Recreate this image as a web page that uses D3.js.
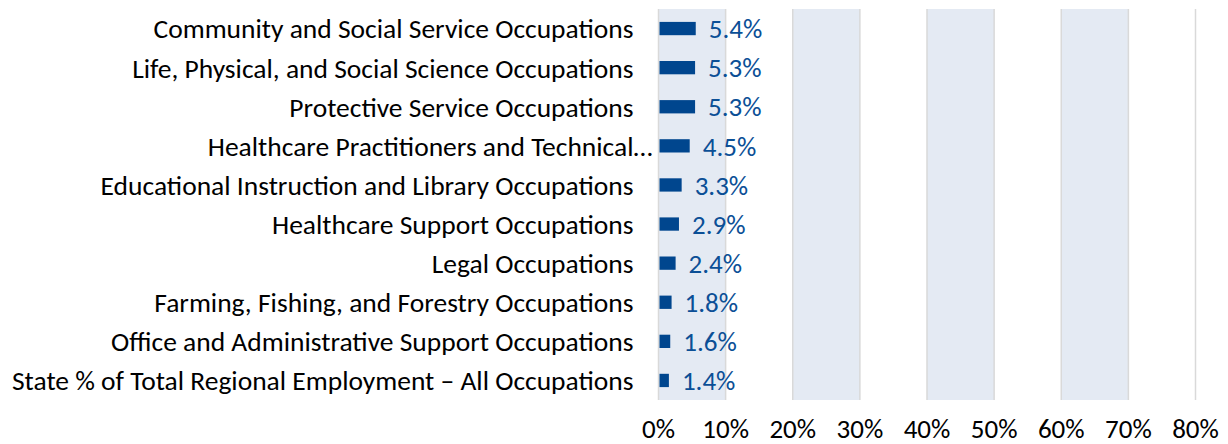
<!DOCTYPE html>
<html lang="en">
<head>
  <meta charset="UTF-8">
  <style>
    body { margin: 0; overflow: hidden; background: #fff; }
    svg { display: block; }
    .cat { font-family: Carlito, Calibri, Lato, sans-serif; font-size: 27.5px; fill: #000; }
    .val { font-family: Carlito, Calibri, Lato, sans-serif; font-size: 27px; fill: #0b4f96; }
    .tick { font-family: Carlito, Calibri, Lato, sans-serif; font-size: 27px; fill: #000; }
  </style>
  <script src="https://d3js.org/d3.v7.min.js"></script>
</head>
<body>
<svg id="chart"></svg>
<script>
  const categories = [
    "Community and Social Service Occupations",
    "Life, Physical, and Social Science Occupations",
    "Protective Service Occupations",
    "Healthcare Practitioners and Technical…",
    "Educational Instruction and Library Occupations",
    "Healthcare Support Occupations",
    "Legal Occupations",
    "Farming, Fishing, and Forestry Occupations",
    "Office and Administrative Support Occupations",
    "State % of Total Regional Employment – All Occupations"
  ];
  const values = [5.4, 5.3, 5.3, 4.5, 3.3, 2.9, 2.4, 1.8, 1.6, 1.4];
  const ticks = [0, 10, 20, 30, 40, 50, 60, 70, 80];
  const bands = [[0, 10], [20, 30], [40, 50], [60, 70]];

  const width = 1228, height = 444;
  const plotLeft = 658.5, plotRight = 1195.5, plotTop = 9, plotBottom = 400;

  const svg = d3.select("#chart").attr("width", width).attr("height", height);

  const x = d3.scaleLinear().domain([0, 80]).range([plotLeft, plotRight]);
  const y = d3.scaleBand().domain(categories).range([plotTop, plotBottom]).paddingInner(0.66).paddingOuter(0.33);

  // shaded columns
  svg.selectAll(".band").data(bands).enter().append("rect")
    .attr("x", d => x(d[0]))
    .attr("y", plotTop)
    .attr("width", d => x(d[1]) - x(d[0]))
    .attr("height", plotBottom - plotTop)
    .attr("fill", "#e4eaf3");

  // gridlines
  svg.selectAll(".grid").data(ticks).enter().append("line")
    .attr("x1", d => x(d)).attr("x2", d => x(d))
    .attr("y1", plotTop).attr("y2", plotBottom)
    .attr("stroke", "#d9d9d9")
    .attr("stroke-width", 1.5);

  // bars
  svg.selectAll(".bar").data(values).enter().append("rect")
    .attr("x", x(0) + 1)
    .attr("y", (d, i) => y(categories[i]))
    .attr("width", d => x(d) - x(0))
    .attr("height", y.bandwidth())
    .attr("fill", "#00468e");

  // value labels
  svg.selectAll(".val").data(values).enter().append("text")
    .attr("class", "val")
    .attr("x", d => x(d) + 14)
    .attr("y", (d, i) => y(categories[i]) + y.bandwidth() / 2)
    .attr("dy", "0.36em")
    .text(d => d.toFixed(1) + "%");

  // category labels (a truncated label keeps its ellipsis hanging past the edge)
  const cats = svg.selectAll(".cat").data(categories).enter();
  cats.append("text")
    .attr("class", "cat")
    .attr("x", plotLeft - 25)
    .attr("y", d => y(d) + y.bandwidth() / 2)
    .attr("dy", "0.36em")
    .attr("text-anchor", "end")
    .text(d => d.endsWith("…") ? d.slice(0, -1) : d);
  cats.filter(d => d.endsWith("…")).append("text")
    .attr("class", "cat")
    .attr("x", plotLeft - 25)
    .attr("y", d => y(d) + y.bandwidth() / 2)
    .attr("dy", "0.36em")
    .text("…");

  // x tick labels
  svg.selectAll(".tick").data(ticks).enter().append("text")
    .attr("class", "tick")
    .attr("x", d => x(d))
    .attr("y", 438)
    .attr("text-anchor", "middle")
    .text(d => d + "%");
</script>
</body>
</html>
